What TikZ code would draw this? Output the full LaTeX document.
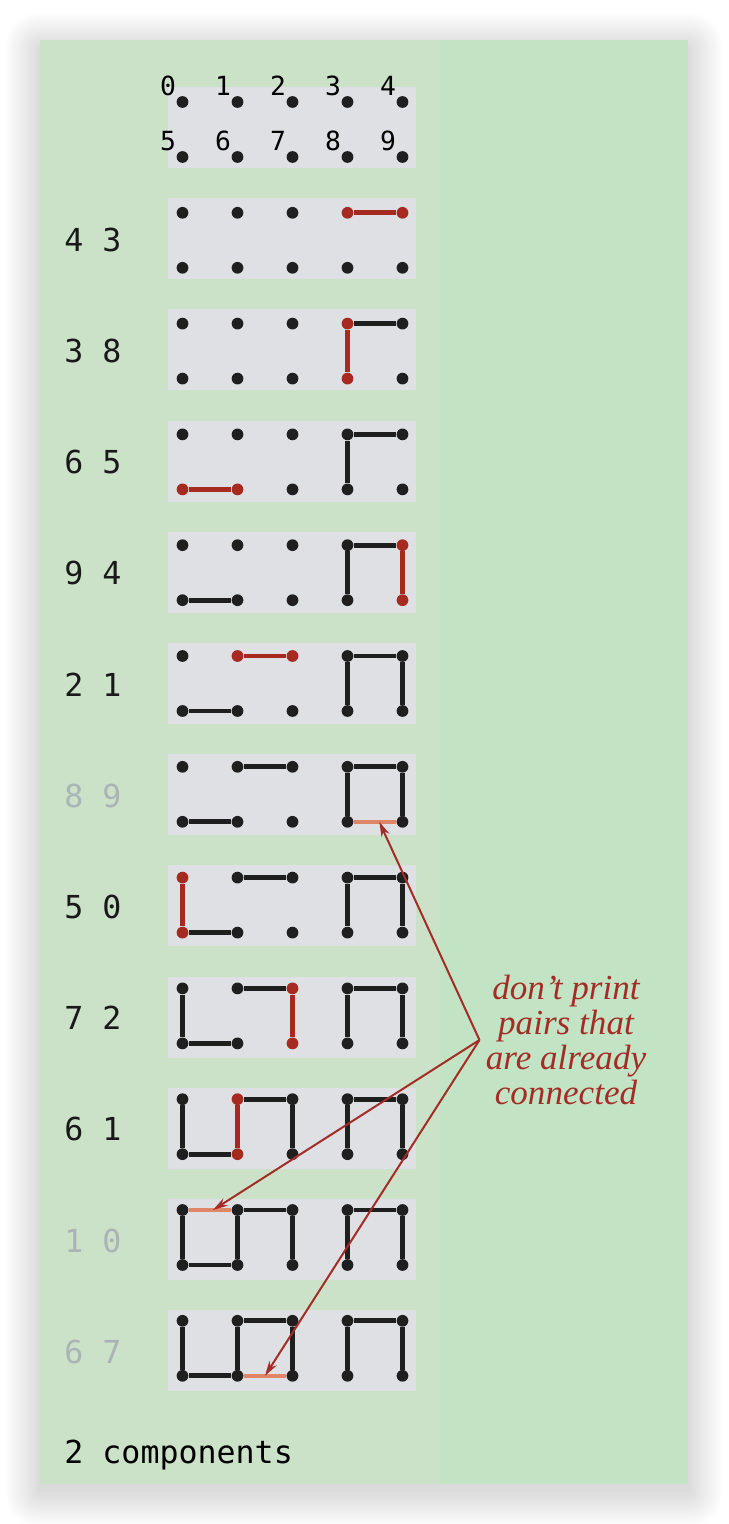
\documentclass[tikz,border=0pt]{standalone}
\usepackage{fontspec}
\setmonofont{DejaVu Sans Mono}
\newfontfamily\notefont[Ligatures=TeX]{Liberation Serif}
\usetikzlibrary{arrows.meta, positioning, calc}

\definecolor{panelL}{RGB}{203,226,200}
\definecolor{panelR}{RGB}{194,228,196}
\definecolor{gridbg}{RGB}{222,224,228}
\definecolor{unionred}{RGB}{166,42,32}
\definecolor{skiporange}{RGB}{224,134,104}
\definecolor{notered}{RGB}{163,45,38}
\definecolor{dimgray}{RGB}{170,180,182}

\tikzset{
  site/.style     = {circle, fill=black!88, inner sep=0pt, minimum size=0.235cm},
  gridbox/.style  = {fill=gridbg},
  oldlink/.style  = {line width=0.095cm, black!88},
  newlink/.style  = {line width=0.095cm, unionred},
  skiplink/.style = {line width=0.07cm, skiporange},
  pairlbl/.style  = {anchor=west, inner sep=0pt, font=\fontsize{18}{20}\selectfont\ttfamily},
  sitelbl/.style  = {inner sep=0pt, font=\fontsize{15}{16}\selectfont\ttfamily},
  note/.style     = {align=center, inner sep=0.12cm, text=notered,
                     font=\fontsize{20}{20}\selectfont\notefont\itshape},
  notearr/.style  = {-{Stealth[length=0.3cm, width=0.17cm]}, line width=0.04cm, notered}
}

\begin{document}
\begin{tikzpicture}[x=0.02cm, y=-0.02cm]

\useasboundingbox[fill=white] (0,0) rectangle (728,1524);

% soft shadow and the two-tone panel
\foreach \s in {1,3,...,35}{
  \pgfmathsetmacro\rc{0.02*\s}
  \fill[black, fill opacity=0.007, rounded corners=\rc cm]
       (40-\s,48-\s) rectangle (688+\s,1492+\s);
}
\fill[panelL] (40,40) rectangle (440,1484);
\fill[panelR] (440,40) rectangle (688,1484);

% header row with site numbers
\fill[gridbox] (168,87) rectangle (416,168);
\foreach \i in {0,...,9}
  \node[site, label={[sitelbl, label distance=0.05cm]135:\i}] (r0-\i)
        at ({182.5+55*mod(\i,5)}, {102+55*int(\i/5)}) {};

% one row per input pair: kind 1 = new union, kind 2 = already connected
\foreach \k/\ea/\eb/\kind/\pp in {1/4/3/1/0, 2/3/8/1/0, 3/6/5/1/0, 4/9/4/1/0,
                                  5/2/1/1/0, 6/8/9/2/0.6, 7/5/0/1/0, 8/7/2/1/0,
                                  9/6/1/1/0, 10/1/0/2/0.43, 11/6/7/2/0.5}{
  \pgfmathsetmacro\ytop{87+111.2*\k}
  \pgfmathsetmacro\ysite{102+110.8*\k}
  \fill[gridbox] (168,\ytop) rectangle (416,{\ytop+81});
  \foreach \i in {0,...,9}{
    \pgfmathtruncatemacro\hot{(\kind==1)&&((\i==\ea)||(\i==\eb))}
    \ifnum\hot=1 \def\sitecol{unionred}\else\def\sitecol{black!88}\fi
    \node[site, fill=\sitecol] (r\k-\i)
          at ({182.5+55*mod(\i,5)}, {\ysite+55*int(\i/5)}) {};
  }
  \ifnum\kind=2 \def\lblcol{dimgray}\else\def\lblcol{black!90}\fi
  \node[pairlbl, text=\lblcol] (p\k) at (64,{\ytop+41.5}) {\ea\ \eb};
  \ifnum\kind=1
    \draw[newlink] (r\k-\ea) -- (r\k-\eb);
  \else
    \draw[skiplink] (r\k-\ea) -- coordinate[pos=\pp] (tip\k) (r\k-\eb);
  \fi
}

% links made earlier stay black in the rows below
\foreach \ea/\eb/\since in {4/3/1, 3/8/2, 6/5/3, 9/4/4, 2/1/5, 5/0/7, 7/2/8, 6/1/9}{
  \pgfmathtruncatemacro\first{\since+1}
  \foreach \k in {\first,...,11}
    \draw[oldlink] (r\k-\ea) -- (r\k-\eb);
}

\node[note] (note) at (566,1040) {don’t print\\pairs that\\are already\\connected};
\foreach \k in {6,10,11}
  \draw[notearr] (note.west) -- (tip\k);

\node[pairlbl] (tally) at (64,1455) {2 components};

\end{tikzpicture}
\end{document}
